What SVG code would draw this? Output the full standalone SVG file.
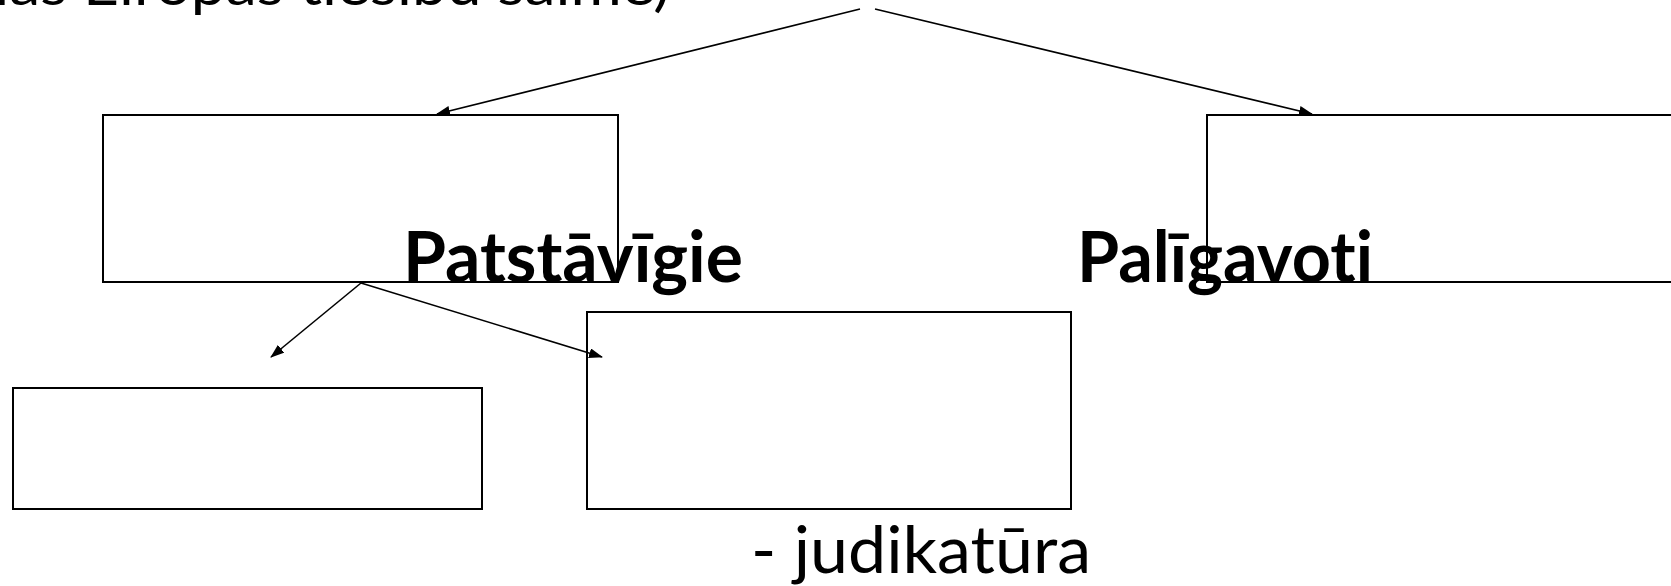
<svg xmlns="http://www.w3.org/2000/svg" width="1671" height="586" viewBox="0 0 1671 586">
  <style>
    .box { fill: none; stroke: #000; stroke-width: 2; }
    .link { fill: none; stroke: #000; stroke-width: 1.6; }
    .txt { font-family: Lato, "Open Sans", "Liberation Sans", sans-serif; fill: #000; font-variant-ligatures: none; }
    .bold { font-weight: bold; }
  </style>
  <defs>
    <marker id="arrow" markerUnits="userSpaceOnUse" markerWidth="14" markerHeight="10" refX="13" refY="5" orient="auto">
      <path d="M0,0 L14,5 L0,10 Z" fill="#000"/>
    </marker>
  </defs>

  <rect width="1671" height="586" fill="#fff"/>

  <!-- heading line, partly above the top edge -->
  <g id="heading">
    <text class="txt" x="-298" y="5" font-size="56" textLength="968" lengthAdjust="spacingAndGlyphs">kontinentālās Eiropas tiesību saimē)</text>
  </g>

  <g id="connectors">
    <line class="link" x1="860" y1="9" x2="437" y2="114" marker-end="url(#arrow)"/>
    <line class="link" x1="875" y1="9" x2="1312" y2="114" marker-end="url(#arrow)"/>
    <line class="link" x1="361" y1="283" x2="271" y2="357" marker-end="url(#arrow)"/>
    <line class="link" x1="361" y1="283" x2="602" y2="357" marker-end="url(#arrow)"/>
  </g>

  <g id="node-patstavigie">
    <rect class="box" x="103" y="115" width="515" height="167"/>
    <text class="txt bold" x="403" y="282" font-size="70" textLength="340" lengthAdjust="spacingAndGlyphs">Patstāvīgie</text>
  </g>

  <g id="node-paligavoti">
    <rect class="box" x="1207" y="115" width="480" height="167"/>
    <text class="txt bold" x="1077" y="282" font-size="70" textLength="296" lengthAdjust="spacingAndGlyphs">Palīgavoti</text>
  </g>

  <g id="node-left-child">
    <rect class="box" x="13" y="388" width="469" height="121"/>
  </g>

  <g id="node-judikatura">
    <rect class="box" x="587" y="312" width="484" height="197"/>
    <text class="txt" x="751" y="573" font-size="66" textLength="340" lengthAdjust="spacingAndGlyphs">- judikatūra</text>
  </g>
</svg>
